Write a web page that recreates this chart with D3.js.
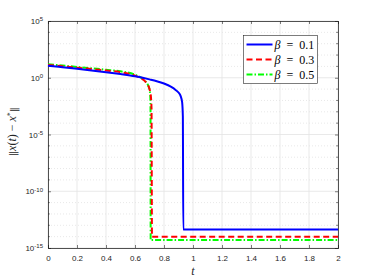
<!DOCTYPE html>
<html>
<head>
<meta charset="utf-8">
<script src="https://cdn.jsdelivr.net/npm/d3@7"></script>
<style>
  body { margin: 0; background: #fff; }
  svg { display: block; }
  .tick text { font-family: "Liberation Sans", Arial, sans-serif; font-size: 8px; fill: #262626; }
</style>
</head>
<body>
<div id="chart"></div>
<script>
// error norm ||x(t) - x*|| for three values of beta (log scale)

var tBlue = [0, 0.1, 0.2, 0.3, 0.4, 0.5, 0.6, 0.7, 0.75, 0.8, 0.85, 0.88, 0.9, 0.915, 0.925, 0.93, 0.933, 2];
var yBlue = [11.5, 8.4, 6.1, 4.4, 3.1, 2.1, 1.35, 0.72, 0.5, 0.31, 0.155, 0.085, 0.05, 0.024, 0.007, 0.0004, 4.3e-14, 4.3e-14];

var tRed = [0, 0.1, 0.2, 0.3, 0.4, 0.5, 0.6, 0.65, 0.67, 0.69, 0.7, 0.708, 0.714, 0.717, 2];
var yRed = [13.2, 10.2, 7.8, 5.8, 4.3, 3.1, 1.55, 0.78, 0.48, 0.22, 0.1, 0.035, 0.002, 1e-14, 1e-14];

var tGreen = [0, 0.1, 0.2, 0.3, 0.4, 0.5, 0.6, 0.65, 0.67, 0.69, 0.7, 0.705, 0.707, 0.708, 2];
var yGreen = [15.5, 11.8, 9.0, 6.8, 5.1, 3.7, 1.85, 0.85, 0.5, 0.22, 0.09, 0.03, 0.002, 5e-15, 5e-15];

var xTicks = [0, 0.2, 0.4, 0.6, 0.8, 1, 1.2, 1.4, 1.6, 1.8, 2];
var yMajor = [1e-15, 1e-10, 1e-5, 1e0, 1e5];
var yExp = ["-15", "-10", "-5", "0", "5"];
var legendLabels = ["0.1", "0.3", "0.5"];

var svgWidth = 374;
var svgHeight = 280;
var margin = { top: 21, right: 36, bottom: 32, left: 48 };
var width = svgWidth - margin.left - margin.right;
var height = svgHeight - margin.top - margin.bottom;
var axisColor = "#262626";

var svg = d3.select("#chart")
    .append("svg")
    .attr("width", svgWidth)
    .attr("height", svgHeight);

var chartGroup = svg.append("g")
    .attr("transform", `translate(${margin.left}, ${margin.top})`);

var xScale = d3.scaleLinear().domain([0, 2]).range([0, width]);
var yScale = d3.scaleLog().domain([1e-15, 1e5]).range([height, 0]);

// minor decades for the dotted grid
var yMinor = d3.range(-15, 6).map(e => Math.pow(10, e)).filter(v => yMajor.indexOf(v) < 0);

// grid
chartGroup.append("g").selectAll("line")
    .data(yMinor).enter().append("line")
    .attr("x1", 0).attr("x2", width)
    .attr("y1", d => yScale(d)).attr("y2", d => yScale(d))
    .attr("stroke", "#d9d9d9").attr("stroke-width", 0.6)
    .attr("stroke-dasharray", "1,2");

chartGroup.append("g").selectAll("line")
    .data(yMajor).enter().append("line")
    .attr("x1", 0).attr("x2", width)
    .attr("y1", d => yScale(d)).attr("y2", d => yScale(d))
    .attr("stroke", "#e3e3e3").attr("stroke-width", 0.8);

chartGroup.append("g").selectAll("line")
    .data(xTicks).enter().append("line")
    .attr("x1", d => xScale(d)).attr("x2", d => xScale(d))
    .attr("y1", 0).attr("y2", height)
    .attr("stroke", "#e3e3e3").attr("stroke-width", 0.8);

// axes
var bottomAxis = d3.axisBottom(xScale).tickValues(xTicks).tickSize(-3).tickPadding(7)
    .tickFormat(d3.format("~g"));
var topAxis = d3.axisTop(xScale).tickValues(xTicks).tickSize(-3).tickFormat("");
var leftAxis = d3.axisLeft(yScale).tickValues(yMajor).tickSize(-3).tickPadding(5).tickFormat("");
var rightAxis = d3.axisRight(yScale).tickValues(yMajor).tickSize(-3).tickFormat("");

var gx = chartGroup.append("g").attr("transform", `translate(0, ${height})`).call(bottomAxis);
chartGroup.append("g").call(topAxis);
var gy = chartGroup.append("g").call(leftAxis);
chartGroup.append("g").attr("transform", `translate(${width}, 0)`).call(rightAxis);

// minor ticks on left/right
chartGroup.append("g").selectAll("line")
    .data(yMinor).enter().append("line")
    .attr("x1", 0).attr("x2", 1.8)
    .attr("y1", d => yScale(d)).attr("y2", d => yScale(d))
    .attr("stroke", axisColor).attr("stroke-width", 0.6);
chartGroup.append("g").selectAll("line")
    .data(yMinor).enter().append("line")
    .attr("x1", width).attr("x2", width - 1.8)
    .attr("y1", d => yScale(d)).attr("y2", d => yScale(d))
    .attr("stroke", axisColor).attr("stroke-width", 0.6);

chartGroup.selectAll(".domain").attr("stroke", axisColor).attr("stroke-width", 0.8);
chartGroup.selectAll(".tick line").attr("stroke", axisColor).attr("stroke-width", 0.6);

// y tick labels 10^n
gy.selectAll(".tick").each(function(d, i) {
    var t = d3.select(this).append("text")
        .attr("x", -5).attr("dy", "0.32em")
        .attr("text-anchor", "end")
        .attr("fill", axisColor);
    t.append("tspan").text("10");
    t.append("tspan").attr("dy", "-0.45em").attr("font-size", "6px").text(yExp[yMajor.indexOf(d)]);
});

// lines
var line = d3.line()
    .x(d => xScale(d[0]))
    .y(d => yScale(d[1]));

var series = [
    { t: tBlue, y: yBlue, color: "#0000ff", dash: null },
    { t: tRed, y: yRed, color: "#ff0000", dash: "6,3.5" },
    { t: tGreen, y: yGreen, color: "#00ff00", dash: "6,2,1.5,2" }
];

series.slice().reverse().forEach(function(s) {
    chartGroup.append("path")
        .datum(s.t.map((v, i) => [v, s.y[i]]))
        .attr("fill", "none")
        .attr("stroke", s.color)
        .attr("stroke-width", 2)
        .attr("stroke-dasharray", s.dash)
        .attr("d", line.curve(d3.curveMonotoneX));
});

// legend
var legend = svg.append("g").attr("transform", "translate(243.5, 35.5)");
legend.append("rect")
    .attr("width", 74).attr("height", 48)
    .attr("fill", "#fff").attr("stroke", axisColor).attr("stroke-width", 0.6);

series.forEach(function(s, i) {
    var y = 9 + i * 15;
    legend.append("line")
        .attr("x1", 3).attr("x2", 29)
        .attr("y1", y).attr("y2", y)
        .attr("stroke", s.color).attr("stroke-width", 2)
        .attr("stroke-dasharray", s.dash);
    var txt = legend.append("text")
        .attr("x", 31).attr("y", y).attr("dy", "0.35em")
        .attr("font-family", "'Liberation Serif', serif")
        .attr("font-size", "12px").attr("fill", "#000");
    txt.append("tspan").attr("font-style", "italic").text("β");
    txt.append("tspan").text("\u2002=\u2002" + legendLabels[i]);
});

// axis labels
svg.append("text")
    .attr("transform", `translate(${margin.left + width / 2}, 275)`)
    .attr("text-anchor", "middle")
    .attr("font-family", "'Liberation Serif', serif")
    .attr("font-style", "italic")
    .attr("font-size", "12px")
    .attr("fill", axisColor)
    .text("t");

var ylab = svg.append("text")
    .attr("transform", `translate(16, ${margin.top + height / 2 - 3}) rotate(-90)`)
    .attr("text-anchor", "middle")
    .attr("font-family", "'Liberation Serif', serif")
    .attr("font-size", "12px")
    .attr("fill", axisColor);
ylab.append("tspan").attr("font-family", "'DejaVu Serif', serif").attr("font-size", "10px").text("\u2016");
ylab.append("tspan").attr("font-style", "italic").text("x");
ylab.append("tspan").text("(");
ylab.append("tspan").attr("font-style", "italic").text("t");
ylab.append("tspan").text(") \u2212 ");
ylab.append("tspan").attr("font-style", "italic").text("x");
ylab.append("tspan").attr("dy", "-0.4em").attr("font-size", "8px").text("*");
ylab.append("tspan").attr("dy", "0.4em").attr("font-family", "'DejaVu Serif', serif").attr("font-size", "10px").text("\u2016");
</script>
</body>
</html>
